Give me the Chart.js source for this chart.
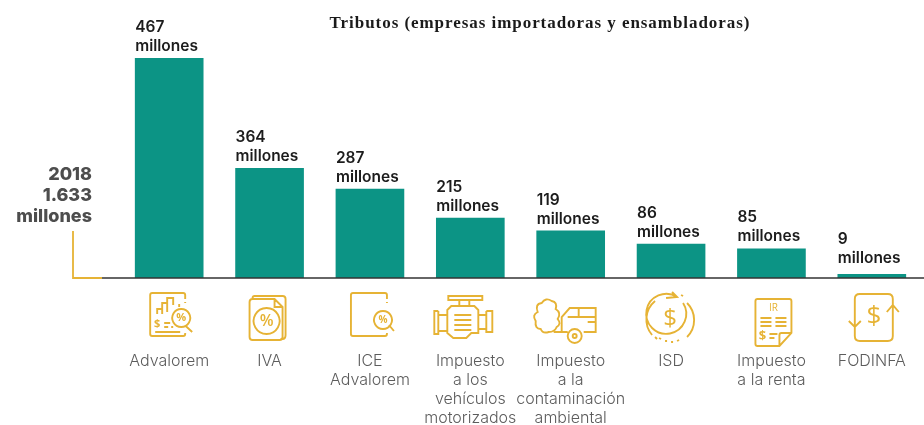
<!DOCTYPE html>
<html lang="es">
<head>
<meta charset="utf-8">
<title>Tributos</title>
<script src="https://cdn.jsdelivr.net/npm/chart.js@4"></script>
<style>
  html, body { margin: 0; padding: 0; background: #fff; }
  #wrap { position: relative; width: 924px; height: 425px; }
</style>
</head>
<body>
<div id="wrap"><canvas id="myChart" width="924" height="425"></canvas></div>
<script>
const categorias = [
  'Advalorem', 'IVA', ['ICE', 'Advalorem'], ['Impuesto', 'a los', 'vehículos', 'motorizados'],
  ['Impuesto', 'a la', 'contaminación', 'ambiental'], 'ISD', ['Impuesto', 'a la renta'], 'FODINFA'
];
// lo que dice cada rotulo, en millones
const rotulos = ['467', '364', '287', '215', '119', '86', '85', '9'];
// altura dibujada de cada barra: en el original no es proporcional al rotulo
const alturas = [467, 233, 189, 127, 100, 72, 62, 8];
const titulo = 'Tributos (empresas importadoras y ensambladoras)';
const resumen = ['2018', '1.633', 'millones'];

const VERDE = '#0c9485';
const AMARILLO = '#e6b335';

// iconos: [dx desde el centro de la barra, dy bajo la base, trazos, dibujo extra]
function simbolo(ctx, txt, x, y, size, weight) {
  ctx.font = (weight || 400) + ' ' + size + 'px "Open Sans"';
  ctx.textAlign = 'center';
  ctx.textBaseline = 'middle';
  ctx.fillText(txt, x, y);
}
const iconos = [
  [-19, 15, 'M35 6V2Q35 0 33 0H2Q0 0 0 2V41Q0 43 2 43H33Q35 43 35 41V40M35 9V10M7 21V16H12V10H17V5H23V12M29 11V14M12 16V21M17 10V19M14 30H20M14 34H18M21 34H23M5 39H30M35.5 33L42 39M31 16a9 9 0 1 0 .1 0Z', (c) => { simbolo(c, '$', 7, 31, 11, 700); simbolo(c, '%', 31, 25, 11, 700); }],
  [-20, 18, 'M3 4V2Q3 0 5 0H33Q36 0 36 3V39Q36 43 33 43H31M0 6Q0 3 3 3H25L33 11V41Q33 44 30 44H3Q0 44 0 41ZM25 3V11H33M17 12a13 13 0 1 0 .1 0Z', (c) => { simbolo(c, '%', 17, 25, 16, 600); }],
  [-19, 15, 'M36 6V2Q36 0 34 0H2Q0 0 0 2V41Q0 43 2 43H34Q36 43 36 41V40M36 9V10M38 32L43 38M32 18a9 9 0 1 0 .1 0Z', (c) => { simbolo(c, '%', 32, 27, 10, 700); }],
  [-37, 17, 'M15 1H49V5H15ZM26 5V11H36V5M14 15L18 11H41L45 15V38H38L33 43H20L14 38ZM14 20H5V36H14M5 16H1V39H5V16M45 20H53V34H45M53 16H59V37H53V16M21 20H38M21 25H38M21 30H38M21 35H38', null],
  [-37, 20, 'M15 34Q9 36 7 31Q1 31 2 23Q-2 17 4 14Q1 6 8 5Q12 -1 18 3Q24 4 22 11Q28 15 24 21Q28 26 23 29Q21 34 15 34ZM28 34V19L36 10H62V34H50M34 34H28M34 19H62M45 10V19M54 24H62M20 34H28M48 38a7 7 0 1 0 -14 0a7 7 0 1 0 14 0M43 38a2 2 0 1 0 -4 0a2 2 0 1 0 4 0', null],
  [-26, 17, 'M7 40A24 24 0 0 1 10 6M42 8A24 24 0 0 1 42 42M21 3L32 2L27 -3M32 2A20 20 0 1 0 38 8M14 43L16 44M20 46L22 46M26 47L28 47M32 46L34 45M36 0L38 1M10 42L12 44', (c) => { simbolo(c, '$', 25, 24, 24, 500); }],
  [-16, 21, 'M2 0H34Q36 0 36 2V34L24 47H2Q0 47 0 45V2Q0 0 2 0ZM36 34H26Q24 34 24 36V47M5 19H16M5 23H16M5 27H16M20 19H31M20 23H31M20 27H31M14 35H22M14 39H19', (c) => { simbolo(c, 'IR', 18, 9, 10, 400); simbolo(c, '$', 7, 37, 13, 700); }],
  [-23, 16, 'M6 15V5Q6 0 11 0H39Q44 0 44 5V16M6 30V42Q6 47 11 47H39Q44 47 44 42V18M0 27L6 33L12 27M6 33V15M38 18L44 11L50 18M44 11V36', (c) => { simbolo(c, '$', 25, 23, 26, 500); }]
];

const dibujoExtra = {
  id: 'dibujoExtra',
  afterDraw(chart) {
    const { ctx, scales: { x, y } } = chart;
    const base = y.getPixelForValue(0);
    ctx.save();

    // linea base y escuadra amarilla del dato 2018
    ctx.strokeStyle = '#333333';
    ctx.lineWidth = 1.5;
    ctx.beginPath(); ctx.moveTo(102, base); ctx.lineTo(924, base); ctx.stroke();
    ctx.strokeStyle = AMARILLO;
    ctx.lineWidth = 1.8;
    ctx.beginPath(); ctx.moveTo(73, base - 47); ctx.lineTo(73, base); ctx.lineTo(102, base); ctx.stroke();

    // rotulos sobre las barras (el ultimo va un poco mas arriba en el original)
    ctx.fillStyle = '#1c1c1c';
    ctx.font = '600 15.5px Inter';
    ctx.textAlign = 'left';
    ctx.textBaseline = 'middle';
    chart.getDatasetMeta(0).data.forEach((bar, i) => {
      const left = bar.x - bar.width / 2;
      const alto = i === rotulos.length - 1 ? 4 : 0;
      ctx.fillText(rotulos[i], left, bar.y - 31 - alto);
      ctx.fillText('millones', left, bar.y - 12 - alto);
    });

    ctx.fillStyle = '#4d4d4d';
    ctx.font = '800 18px Inter';
    ctx.textAlign = 'right';
    resumen.forEach((t, i) => ctx.fillText(t, 92, base - 105 + i * 21 + 2));

    ctx.fillStyle = '#1a1a1a';
    ctx.font = '700 17px "Liberation Serif"';
    ctx.textAlign = 'center';
    ctx.letterSpacing = '0.95px';
    ctx.fillText(titulo, 540, 24);
    ctx.letterSpacing = '0px';

    // iconos bajo cada barra
    iconos.forEach((ic, i) => {
      ctx.save();
      ctx.translate(x.getPixelForTick(i) + ic[0], base + ic[1]);
      ctx.strokeStyle = AMARILLO;
      ctx.fillStyle = AMARILLO;
      ctx.lineWidth = 1.9;
      ctx.stroke(new Path2D(ic[2]));
      if (ic[3]) ic[3](ctx);
      ctx.restore();
    });
    ctx.restore();
  }
};

new Chart(document.getElementById('myChart'), {
  type: 'bar',
  data: {
    labels: categorias,
    datasets: [{ data: alturas, backgroundColor: VERDE, barThickness: 68 }]
  },
  options: {
    responsive: false,
    animation: false,
    layout: { padding: { left: 119, right: 2, top: 58, bottom: 0 } },
    plugins: { legend: { display: false }, tooltip: { enabled: false } },
    scales: {
      x: {
        grid: { display: false },
        border: { display: false },
        afterFit(scale) { scale.height = 147; scale.paddingLeft = 0; scale.paddingRight = 0; },
        ticks: {
          maxRotation: 0,
          autoSkip: false,
          padding: 66,
          color: '#5c5c5c',
          font: { family: 'Inter', size: 16, weight: '300', lineHeight: 1.19 }
        }
      },
      y: { display: false, min: 0, max: 467 }
    }
  },
  plugins: [dibujoExtra]
});
</script>
</body>
</html>
